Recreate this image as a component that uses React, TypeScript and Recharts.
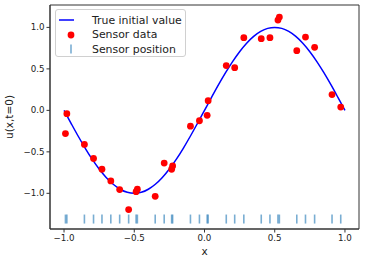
import React from 'react'
import {
  ComposedChart,
  Line,
  Scatter,
  XAxis,
  YAxis,
  ReferenceArea,
} from 'recharts'

// values
const sensorX = [
  -0.99, -0.98, -0.855, -0.79, -0.73, -0.667, -0.604, -0.54, -0.487, -0.478,
  -0.351, -0.287, -0.234, -0.227, -0.1, -0.036, 0.019, 0.026, 0.155, 0.215,
  0.28, 0.404, 0.466, 0.523, 0.533, 0.657, 0.719, 0.784, 0.908, 0.97,
]
const sensorU = [
  -0.28, -0.04, -0.41, -0.58, -0.71, -0.85, -0.955, -1.196, -0.98, -0.95,
  -1.036, -0.635, -0.71, -0.67, -0.19, -0.125, -0.06, 0.117, 0.54, 0.515,
  0.876, 0.864, 0.876, 1.088, 1.124, 0.72, 0.883, 0.76, 0.19, 0.04,
]
const markerLevel = -1.31

const curveX = [
  -1, -0.95, -0.9, -0.85, -0.8, -0.75, -0.7, -0.65, -0.6, -0.55, -0.5, -0.45,
  -0.4, -0.35, -0.3, -0.25, -0.2, -0.15, -0.1, -0.05, 0, 0.05, 0.1, 0.15, 0.2,
  0.25, 0.3, 0.35, 0.4, 0.45, 0.5, 0.55, 0.6, 0.65, 0.7, 0.75, 0.8, 0.85, 0.9,
  0.95, 1,
]
const curveU = [
  0, -0.156, -0.309, -0.454, -0.588, -0.707, -0.809, -0.891, -0.951, -0.988, -1,
  -0.988, -0.951, -0.891, -0.809, -0.707, -0.588, -0.454, -0.309, -0.156, 0,
  0.156, 0.309, 0.454, 0.588, 0.707, 0.809, 0.891, 0.951, 0.988, 1, 0.988,
  0.951, 0.891, 0.809, 0.707, 0.588, 0.454, 0.309, 0.156, 0,
]

const xTicks = [-1, -0.5, 0, 0.5, 1]
const yTicks = [-1, -0.5, 0, 0.5, 1]

const curve = curveX.map((x, i) => ({ x, y: curveU[i] }))
const sensors = sensorX.map((x, i) => ({ x, y: sensorU[i] }))
const positions = sensorX.map((x) => ({ x, y: markerLevel }))

const font = 'DejaVu Sans, sans-serif'
const fmt = (v: number) => v.toFixed(1).replace('-', '\u2212')

const Dot = (props: any) => <circle cx={props.cx} cy={props.cy} r={3.4} fill="#ff0000" />
const Tick = (props: any) => (
  <line x1={props.cx} x2={props.cx} y1={props.cy - 4.5} y2={props.cy + 4.5} stroke="#1f77b4" strokeOpacity={0.6} strokeWidth={1.6} />
)

export default function App() {
  return (
    <div style={{ position: 'absolute', left: 0, top: 0, width: 366, height: 262, background: '#fff' }}>
      <ComposedChart width={366} height={262} margin={{ top: 5, right: 7, left: 0, bottom: 13 }}>
        <XAxis
          type="number"
          dataKey="x"
          domain={[-1.1, 1.1]}
          ticks={xTicks}
          tickFormatter={fmt}
          height={20}
          allowDataOverflow
          tick={{ fontSize: 8.7, fill: '#222', fontFamily: font }}
          tickSize={3.5}
          stroke="#333"
          label={({ viewBox }: any) => (
            <text x={viewBox.x + viewBox.width / 2} y={viewBox.y + 26} textAnchor="middle" fontSize={10.5} fontFamily={font} fill="#222">
              x
            </text>
          )}
        />
        <YAxis
          type="number"
          dataKey="y"
          domain={[-1.43, 1.27]}
          ticks={yTicks}
          tickFormatter={fmt}
          width={50}
          allowDataOverflow
          tick={{ fontSize: 8.7, fill: '#222', fontFamily: font }}
          tickSize={3.5}
          stroke="#333"
          label={({ viewBox }: any) => {
            const cx = viewBox.x + 13
            const cy = viewBox.y + viewBox.height / 2
            return (
              <text x={cx} y={cy} transform={`rotate(-90 ${cx} ${cy})`} textAnchor="middle" fontSize={10.5} fontFamily={font} fill="#222">
                u(x,t=0)
              </text>
            )
          }}
        />
        <ReferenceArea x1={-1.1} x2={1.1} y1={-1.43} y2={1.27} fill="none" stroke="#333" strokeWidth={1} />
        <Line data={curve} dataKey="y" type="monotone" stroke="#0000ff" strokeWidth={1.5} dot={false} isAnimationActive={false} />
        <Scatter data={sensors} dataKey="y" shape={Dot} isAnimationActive={false} />
        <Scatter data={positions} dataKey="y" shape={Tick} isAnimationActive={false} />
      </ComposedChart>
      <div
        style={{
          position: 'absolute',
          left: 55,
          top: 9,
          width: 131,
          height: 48,
          boxSizing: 'border-box',
          border: '1px solid #d0d0d0',
          borderRadius: 3,
          background: 'rgba(255,255,255,0.85)',
          fontFamily: font,
          fontSize: 10.9,
          color: '#222',
        }}
      >
        {[
          { label: 'True initial value', kind: 'line' },
          { label: 'Sensor data', kind: 'dot' },
          { label: 'Sensor position', kind: 'tick' },
        ].map((item, i) => (
          <div key={item.label} style={{ position: 'absolute', left: 0, top: 3 + i * 14.5, height: 14, display: 'flex', alignItems: 'center', whiteSpace: 'nowrap' }}>
            <svg width={36} height={14} style={{ display: 'block' }}>
              {item.kind === 'line' && <line x1={3} x2={18} y1={7} y2={7} stroke="#0000ff" strokeWidth={1.5} />}
              {item.kind === 'dot' && <circle cx={15} cy={7} r={3.4} fill="#ff0000" />}
              {item.kind === 'tick' && <line x1={15} x2={15} y1={2.5} y2={11.5} stroke="#1f77b4" strokeOpacity={0.6} strokeWidth={1.6} />}
            </svg>
            <span>{item.label}</span>
          </div>
        ))}
      </div>
    </div>
  )
}
